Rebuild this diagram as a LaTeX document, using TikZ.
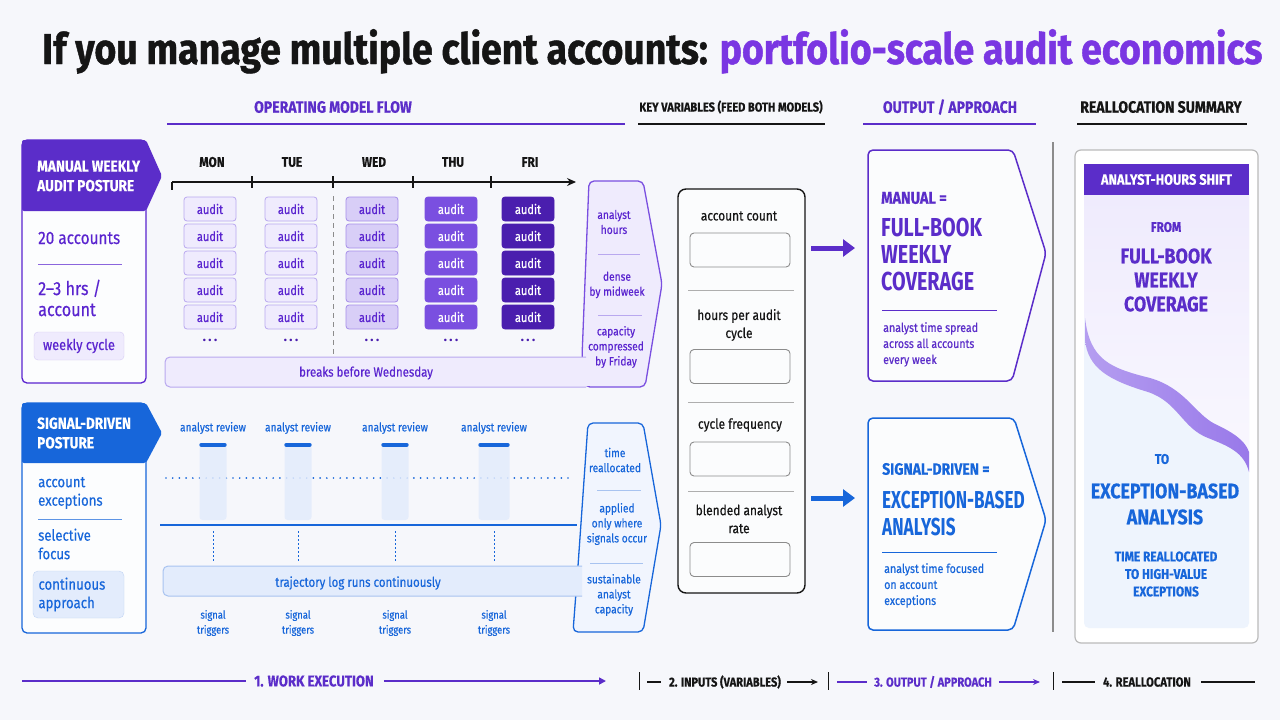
\documentclass[tikz,border=0pt]{standalone}
\usepackage{fontspec}
\setmainfont{Fira Sans}
\newfontfamily\cond[FakeStretch=0.85,FakeBold=0.4]{Fira Sans}
\newfontfamily\tfont[FakeStretch=0.87,FakeBold=1.0]{Fira Sans}
\newfontfamily\bigA[FakeStretch=0.76]{Fira Sans}
\newfontfamily\bigB[FakeStretch=0.70]{Fira Sans}
\usetikzlibrary{arrows.meta,calc}
\newcommand\fsz[2]{\fontsize{#1}{#2}\selectfont}
\definecolor{bg}{HTML}{F6F7FB}
\definecolor{pur}{HTML}{5A24CF}
\definecolor{purT}{HTML}{7A36E2}
\definecolor{purH}{HTML}{5B2DC9}
\definecolor{purL}{HTML}{EFEBFD}
\definecolor{purB}{HTML}{B9A8EF}
\definecolor{purM}{HTML}{D8CEF7}
\definecolor{purD}{HTML}{7A4FE0}
\definecolor{purX}{HTML}{4A1EAE}
\definecolor{purR}{HTML}{9C7DEB}
\definecolor{blu}{HTML}{1766DA}
\definecolor{bluL}{HTML}{E3ECFC}
\definecolor{bluB}{HTML}{A8C3F0}
\definecolor{ink}{HTML}{151515}
\definecolor{gry}{HTML}{8C8C8C}
\tikzset{
  hdr/.style={font=\cond\bfseries\fsz{16.5}{18}, inner sep=0},
  day/.style={font=\cond\bfseries\fsz{14}{16}, text=ink, inner sep=0},
  abox/.style={draw, rounded corners=3, minimum width=52, minimum height=24, inner sep=0, font=\cond\fsz{13}{14}, line width=0.8},
  aMon/.style={abox, fill=purL, draw=purB, text=pur},
  aWed/.style={abox, fill=purM, draw=purB!80!pur, text=pur},
  aThu/.style={abox, fill=purD, draw=purD, text=white},
  aFri/.style={abox, fill=purX, draw=purX, text=white},
  ptxt/.style={font=\cond\fsz{12}{15}, text=pur, align=center, inner sep=0},
  btxt/.style={font=\cond\fsz{12}{15}, text=blu, align=center, inner sep=0},
  side/.style={font=\cond\fsz{18}{21}, align=left, anchor=west, inner sep=0},
  kvt/.style={font=\cond\fsz{14}{18}, text=ink, align=center, inner sep=0},
  inbox/.style={draw=gry, line width=0.9, rounded corners=4, minimum width=100, minimum height=34, fill=white!60!bg},
  subt/.style={font=\cond\fsz{12.5}{16}, align=left, anchor=north west, inner sep=0},
  axl/.style={font=\cond\bfseries\fsz{15.5}{16}, inner sep=0},
}
\begin{document}
\begin{tikzpicture}[x=1pt,y=-1pt]
\fill[bg] (0,0) rectangle (1280,720);
\useasboundingbox (0,0) rectangle (1280,720);

% title
\node[anchor=base west, inner sep=0, font=\tfont\bfseries\fsz{43}{45}, text=ink] (title) at (42,64)
  {If you manage multiple client accounts: \textcolor{purT}{portfolio-scale audit economics}};

% section headers
\node[hdr, text=purH] (h1) at (333,107) {OPERATING MODEL FLOW};
\draw[purH, line width=2] (167,124) -- (625,124);
\node[hdr, text=ink, font=\cond\bfseries\fsz{13}{14}] (h2) at (731,107) {KEY VARIABLES (FEED BOTH MODELS)};
\draw[ink, line width=2] (638,124) -- (825,124);
\node[hdr, text=purH] (h3) at (950,107) {OUTPUT / APPROACH};
\draw[purH, line width=2] (863,124) -- (1036,124);
\node[hdr, text=ink] (h4) at (1161,107) {REALLOCATION SUMMARY};
\draw[ink, line width=2] (1077,124) -- (1247,124);

% ---------- manual panel
\draw[pur, line width=1.3, rounded corners=5, fill=white!70!bg] (22,140) rectangle (146,383);
\fill[purH, rounded corners=2] (22,140) -- (146,140) -- (162,176) -- (146,211) -- (22,211) -- cycle;
\node[anchor=west, align=left, text=white, font=\cond\bfseries\fsz{16}{19.5}, inner sep=0] (mh) at (37,176) {MANUAL WEEKLY\\AUDIT POSTURE};
\node[side, text=pur] (m1) at (38,238) {20 accounts};
\draw[pur!70, line width=1] (38,264) -- (122,264);
\node[side, text=pur, font=\cond\fsz{19}{21}] (m2) at (38,298) {2–3 hrs /\\account};
\node[draw=purB!60, fill=purL, rounded corners=4, minimum width=90, minimum height=28, font=\cond\fsz{15}{16}, text=pur, inner sep=0] (m3) at (79,346) {weekly cycle};

% ---------- calendar
\foreach \n/\x in {MON/212,TUE/292,WED/374,THU/453,FRI/530}{
  \node[day] (d\n) at (\x,162) {\n};
}
\coordinate (axs) at (172,182);
\coordinate (axe) at (576,182);
\draw[ink, line width=1.2, -{Stealth[length=9,width=8]}] (axs) -- (axe);
\draw[ink, line width=1.2] (axs) -- ++(0,8);
\foreach \x in {252,333,413,491}{ \draw[ink, line width=1.2] (\x,176) -- (\x,188); }
\draw[gry, line width=1, dash pattern=on 5pt off 4pt] (333,196) -- (333,356);

% breaks bar + chevron
\draw[purD, fill=purL, line width=1.3, rounded corners=5] (589,181) -- (643,181) -- (662,284) -- (645,387) -- (585,387) -- (582,357) -- cycle;
\fill[purL] (585,358) rectangle (595,386);
\draw[purB, fill=purL, line width=1, rounded corners=5] (586,357) -- (165,357) -- (165,387) -- (586,387);
\node[ptxt, font=\cond\fsz{13.5}{15}] (brk) at (366,373) {breaks before Wednesday};

\foreach \x/\s [count=\c] in {210/aMon,291/aMon,372/aWed,451/aThu,528/aFri}{
  \foreach \y [count=\r] in {209,236,263,290,317}{
    \node[\s] (a\c-\r) at (\x,\y) {audit};
  }
  \node[font=\fsz{9}{9}\bfseries, text=purX, inner sep=0] (dots\c) at (\x,341) {•\hspace{2.5pt}•\hspace{2.5pt}•};
}

\node[ptxt] (c1) at (614,222) {analyst\\hours};
\draw[purB, line width=1] (598,254) -- (640,254);
\node[ptxt] (c2) at (617,285) {dense\\by midweek};
\draw[purB, line width=1] (598,315) -- (642,315);
\node[ptxt] (c3) at (616,347) {capacity\\compressed\\by Friday};

% ---------- signal panel
\draw[blu, line width=1.3, rounded corners=5, fill=white!70!bg] (22,403) rectangle (146,633);
\fill[blu, rounded corners=2] (22,403) -- (146,403) -- (162,433) -- (146,463) -- (22,463) -- cycle;
\node[anchor=west, align=left, text=white, font=\cond\bfseries\fsz{16}{19.5}, inner sep=0] (sh) at (37,433) {SIGNAL-DRIVEN\\POSTURE};
\node[side, text=blu, font=\cond\fsz{15.5}{18.5}] (s1) at (38,493) {account\\exceptions};
\draw[blu!70, line width=1] (38,519) -- (122,519);
\node[side, text=blu, font=\cond\fsz{15.5}{18.5}] (s2) at (38,544) {selective\\focus};
\node[draw=bluB!70, fill=bluL, rounded corners=5, minimum width=91, minimum height=47, font=\cond\fsz{15.5}{18.5}, text=blu, align=left, inner sep=0, text width=80] (s3) at (78.5,594.5) {continuous\\approach};

% timeline
\coordinate (dls) at (166,478);
\coordinate (dle) at (572,478);
\draw[blu, line width=1.9, line cap=round, dash pattern=on 0pt off 6.7pt] (dls) -- (dle);
\coordinate (sls) at (160,525);
\coordinate (sle) at (577,525);
\draw[blu, line width=1.6] (sls) -- (sle);
\foreach \x/\w [count=\c] in {213/27,298/27,395/27,494/31}{
  \node[btxt, font=\cond\fsz{12}{14}] (ar\c) at (\x,428) {analyst review};
  \node[fill=bluL, fill opacity=0.85, rounded corners=3, minimum width=\w, minimum height=75, inner sep=0] (col\c) at (\x,482.5) {};
  \draw[blu, line width=4, line cap=round] ($(col\c.north west)+(2,0)$) -- ($(col\c.north east)+(-2,0)$);
  \draw[blu, line width=1, dash pattern=on 2pt off 2pt] (\x,531) -- (\x,561);
  \node[btxt, font=\cond\fsz{11}{15}] (st\c) at (\x,623) {signal\\triggers};
}

% trajectory bar + chevron
\draw[blu, fill=bluL!50!white, line width=1.3, rounded corners=5] (588,423) -- (643,423) -- (661,525) -- (643,632) -- (573,632) -- (578,566) -- cycle;
\draw[bluB, fill=bluL, line width=1, rounded corners=5] (582,566) -- (163,566) -- (163,596) -- (582,596);
\node[btxt, font=\cond\fsz{13.5}{15}] (trj) at (358,583) {trajectory log runs continuously};
\node[btxt] (t1) at (615,460) {time\\reallocated};
\draw[bluB, line width=1] (597,490) -- (641,490);
\node[btxt] (t2) at (617,524) {applied\\only where\\signals occur};
\draw[bluB, line width=1] (590,563) -- (643,563);
\node[btxt] (t3) at (614,595) {sustainable\\analyst\\capacity};

% ---------- key variables
\node[draw=ink, line width=1.4, rounded corners=8, minimum width=127, minimum height=404, fill=white!60!bg, inner sep=0] (kv) at (741.5,391) {};
\node[kvt] (k1) at (739,216) {account count};
\node[inbox] (k1b) at (740,250) {};
\draw[gry!70, line width=1] (688,290) -- (794,290);
\node[kvt] (k2) at (739,325) {hours per audit\\cycle};
\node[inbox] (k2b) at (740,366.5) {};
\draw[gry!70, line width=1] (688,402) -- (794,402);
\node[kvt] (k3) at (740,425) {cycle frequency};
\node[inbox] (k3b) at (740,459) {};
\draw[gry!70, line width=1] (688,491) -- (794,491);
\node[kvt] (k4) at (739,519) {blended analyst\\rate};
\node[inbox] (k4b) at (740,559.5) {};

% arrows
\coordinate (p1s) at (811,248);
\coordinate (p1e) at (855,248);
\draw[purH, line width=5, -{Triangle[length=12,width=17]}] (p1s) -- (p1e);
\coordinate (p2s) at (811,498);
\coordinate (p2e) at (855,498);
\draw[blu, line width=5, -{Triangle[length=12,width=17]}] (p2s) -- (p2e);

% ---------- output panels
\draw[purH, line width=1.5, rounded corners=5, fill=white!60!bg] (868,150) -- (1013,150) -- (1046,253) -- (1012,381) -- (868,381) -- cycle;
\node[anchor=west, inner sep=0, font=\cond\bfseries\fsz{17}{18}, text=purH] (o1a) at (881,198) {MANUAL =};
\node[align=left, anchor=north west, inner sep=0, font=\bigA\bfseries\fsz{26}{27}, text=purH] (o1b) at (881,218) {FULL-BOOK\\WEEKLY\\COVERAGE};
\draw[purH, line width=1] (882,310) -- (997,310);
\node[subt, text=purH] (o1c) at (883,322) {analyst time spread\\across all accounts\\every week};

\draw[blu, line width=1.5, rounded corners=5, fill=white!60!bg] (868,418) -- (1014,418) -- (1046,520) -- (1013,630) -- (868,630) -- cycle;
\node[anchor=west, inner sep=0, font=\cond\bfseries\fsz{16.5}{18}, text=blu] (o2a) at (882,469) {SIGNAL-DRIVEN =};
\node[align=left, anchor=north west, inner sep=0, font=\bigB\bfseries\fsz{24.5}{27}, text=blu] (o2b) at (882,491) {EXCEPTION-BASED\\ANALYSIS};
\draw[blu, line width=1] (882,552) -- (997,552);
\node[subt, text=blu] (o2c) at (884,563) {analyst time focused\\on account\\exceptions};

% separator
\draw[gry, line width=1.2] (1053,142) -- (1053,632);

% ---------- reallocation card
\draw[gry!60, line width=1.2, rounded corners=6, fill=white] (1075,150) rectangle (1258,643);
\fill[bluL!60!white, rounded corners=5] (1084,164) rectangle (1249,628);
\shade[top color=purL, bottom color=purL!40!white] (1084,195) -- (1249,195) -- (1249,452)
  .. controls (1245,440) and (1232,432) .. (1215,424)
  .. controls (1195,414) and (1185,388) .. (1150,378)
  .. controls (1110,368) and (1090,360) .. (1085,318) -- (1084,318) -- cycle;
\shade[left color=purR!75!white, right color=purR!95!purH] (1085,318) .. controls (1090,360) and (1110,368) .. (1150,378)
  .. controls (1185,388) and (1195,414) .. (1215,424)
  .. controls (1232,432) and (1245,440) .. (1249,452)
  -- (1249,472)
  .. controls (1244,452) and (1228,446) .. (1208,438)
  .. controls (1182,428) and (1178,402) .. (1148,392)
  .. controls (1108,380) and (1088,368) .. (1085,340) -- cycle;
\node[fill=purH, minimum width=165, minimum height=31, inner sep=0, text=white, font=\cond\bfseries\fsz{15}{16}] (rh) at (1166.5,179.5) {ANALYST-HOURS SHIFT};
\node[font=\cond\bfseries\fsz{14}{16}, text=purH, inner sep=0] (rf) at (1166,227) {FROM};
\node[font=\cond\bfseries\fsz{21}{24}, text=purH, align=center, inner sep=0] (rf2) at (1166,280) {FULL-BOOK\\WEEKLY\\COVERAGE};
\node[font=\cond\bfseries\fsz{14}{16}, text=blu, inner sep=0] (rt) at (1162,459) {TO};
\node[font=\cond\bfseries\fsz{21}{26}, text=blu, align=center, inner sep=0] (rt2) at (1165,504) {EXCEPTION-BASED\\ANALYSIS};
\node[font=\cond\bfseries\fsz{14}{17.5}, text=blu, align=center, inner sep=0] (rt3) at (1166,574) {TIME REALLOCATED\\TO HIGH-VALUE\\EXCEPTIONS};

% ---------- bottom axis
\node[axl, text=purH] (b1) at (314,681) {1. WORK EXECUTION};
\coordinate (b1l) at (22,681);
\coordinate (b1r) at (606,681);
\draw[purH, line width=1.6] (b1l) -- ($(b1.west)+(-8,0)$);
\draw[purH, line width=1.6, -{Triangle[length=7,width=7]}] ($(b1.east)+(10,0)$) -- (b1r);
\draw[ink, line width=1] (639,672) -- (639,690);
\node[axl, text=ink, font=\cond\bfseries\fsz{13}{14}] (b2) at (725,682) {2. INPUTS (VARIABLES)};
\draw[ink, line width=1.3] (647,682) -- (661,682);
\coordinate (b2r) at (818,682);
\draw[ink, line width=1.3, -{Stealth[length=7,width=6]}] ($(b2.east)+(6,0)$) -- (b2r);
\draw[ink, line width=1] (828,672) -- (828,690);
\node[axl, text=purH, font=\cond\bfseries\fsz{13}{14}] (b3) at (933,682) {3. OUTPUT / APPROACH};
\draw[purH, line width=1.3] (837,682) -- (867,682);
\coordinate (b3r) at (1040,682);
\draw[purH, line width=1.3, -{Stealth[length=7,width=6]}] ($(b3.east)+(7,0)$) -- (b3r);
\draw[ink, line width=1] (1053,672) -- (1053,690);
\node[axl, text=ink, font=\cond\bfseries\fsz{13.2}{14}] (b4) at (1147,682) {4. REALLOCATION};
\draw[ink, line width=1.3] (1062,682) -- (1095,682);
\draw[ink, line width=1.3] (1201,682) -- (1255,682);
\end{tikzpicture}
\end{document}
